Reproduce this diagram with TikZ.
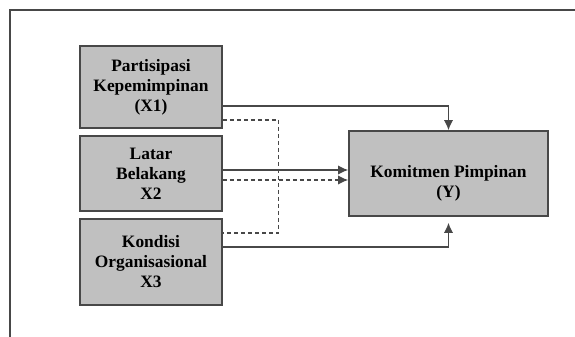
\documentclass[tikz,border=0pt]{standalone}
\usepackage{fontspec}
\setmainfont{Liberation Serif}
\usetikzlibrary{arrows.meta}
\definecolor{boxgray}{HTML}{C0C0C0}
\definecolor{edgegray}{HTML}{484848}
\tikzset{
    varbox/.style={
        draw=edgegray,
        line width=0.8pt,
        fill=boxgray,
        align=center,
        inner sep=0,
        font=\bfseries\fontsize{8.7}{10}\selectfont,
    },
    link/.style={
        draw=edgegray,
        line width=0.65pt,
    },
    dashlink/.style={
        link,
        dash pattern=on 2pt off 1.5pt,
    },
    tip/.style={
        -{Latex[length=5pt,width=4.6pt]},
    },
}
\begin{document}
\begin{tikzpicture}[x=0.5pt,y=-0.5pt]
            \useasboundingbox (0,0) rectangle (575,337);
            \draw[edgegray, line width=0.8pt] (575,10) -- (10,10) -- (10,337);

            \node[varbox, minimum width=71pt, minimum height=41pt] at (151, 87) (X1) {Partisipasi\\Kepemimpinan\\(X1)} ;
            \node[varbox, minimum width=71pt, minimum height=37.5pt] at (151, 173.5) (X2) {Latar\\Belakang\\X2} ;
            \node[varbox, minimum width=71pt, minimum height=43pt] at (151, 262) (X3) {Kondisi\\Organisasional\\X3} ;
            \node[varbox, minimum width=99.5pt, minimum height=42.5pt] at (448.5, 173.5) (Y) {\rule{0pt}{16pt}Komitmen Pimpinan\\(Y)} ;

            \draw[link, tip] ([yshift=-9.5pt]X1.east) -| (Y.north) ;
            \draw[link, tip] ([yshift=1.75pt]X2.east) -- ([yshift=1.75pt]Y.west) ;
            \draw[dashlink, tip] ([yshift=-3.25pt]X2.east) -- ([yshift=-3.25pt]Y.west) ;
            \draw[link, tip, shorten >=3pt] ([yshift=7.5pt]X3.east) -| (Y.south) ;
            \draw[dashlink] ([yshift=-16.5pt]X1.east) -- ++(56,0) |- ([yshift=14.5pt]X3.east) ;
        \end{tikzpicture}
\end{document}
